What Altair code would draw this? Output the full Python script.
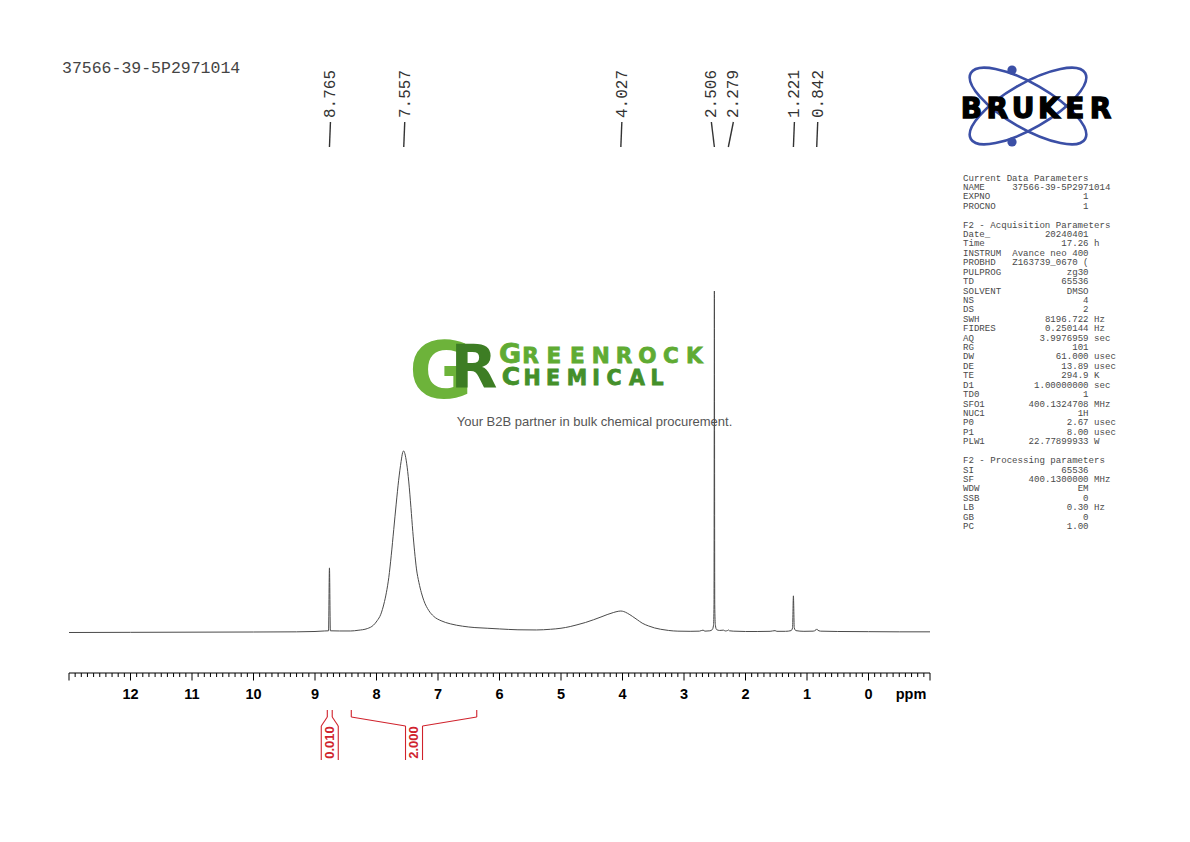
import altair as alt
import pandas as pd

# ---------------------------------------------------------------- data
TITLE = "37566-39-5P2971014"

SPEC_PPM = [13.0, 12.0, 11.0, 10.0, 9.3, 9.0, 8.85, 8.78, 8.765, 8.75,
            8.6, 8.42, 8.3, 8.15, 8.05, 7.99, 7.93, 7.88, 7.84, 7.80,
            7.76, 7.72, 7.68, 7.64, 7.60, 7.575, 7.557, 7.54, 7.51, 7.475,
            7.44, 7.41, 7.38, 7.35, 7.31, 7.27, 7.23, 7.15, 7.07, 6.95,
            6.80, 6.6, 6.4, 6.2, 6.0, 5.7, 5.4, 5.17, 5.0, 4.85,
            4.74, 4.60, 4.47, 4.35, 4.25, 4.15, 4.06, 4.027, 3.98, 3.92,
            3.84, 3.76, 3.68, 3.58, 3.48, 3.38, 3.25, 3.1, 2.9, 2.75,
            2.69, 2.66, 2.58, 2.54, 2.52, 2.512, 2.506, 2.500, 2.49, 2.47,
            2.42, 2.36, 2.33, 2.29, 2.279, 2.26, 2.2, 2.0, 1.8, 1.6,
            1.52, 1.49, 1.35, 1.26, 1.235, 1.221, 1.207, 1.18, 1.05, 0.9,
            0.855, 0.842, 0.83, 0.78, 0.5, 0.0, -0.5, -1.0]
SPEC_INT = [-0.15, -0.1, -0.05, 0.0, 0.05, 0.15, 0.3, 0.35, 18.8, 0.35,
            0.3, 0.3, 0.5, 1.0, 2.0, 3.3, 5.2, 8.2, 11.5, 16.0,
            22.5, 30.0, 37.5, 44.5, 50.0, 52.6, 53.1, 52.4, 49.5, 44.0,
            36.5, 29.5, 23.5, 18.5, 14.5, 11.5, 9.2, 6.3, 4.6, 3.3,
            2.4, 1.7, 1.3, 1.1, 0.9, 0.65, 0.6, 0.8, 1.1, 1.6,
            2.1, 2.8, 3.6, 4.4, 5.1, 5.7, 6.1, 6.15, 6.0, 5.5,
            4.6, 3.6, 2.6, 1.8, 1.2, 0.8, 0.45, 0.25, 0.2, 0.25,
            0.55, 0.25, 0.35, 0.7, 2.0, 8.0, 100.0, 8.0, 2.0, 0.7,
            0.45, 0.55, 0.3, 0.45, 0.6, 0.35, 0.25, 0.15, 0.15, 0.2,
            0.4, 0.2, 0.2, 0.4, 1.2, 10.6, 1.2, 0.4, 0.2, 0.25,
            0.6, 0.9, 0.6, 0.25, 0.15, 0.1, 0.05, 0.05]

PEAK_LABELS = ["8.765", "7.557", "4.027", "2.506", "2.279", "1.221", "0.842"]

INTEGRAL_LABELS = ["0.010", "2.000"]
INTEGRAL_START = [8.80, 8.41]
INTEGRAL_END = [8.72, 6.37]

AXIS_MAJOR = list(range(-1, 14))
AXIS_LABELLED = list(range(0, 13))
AXIS_UNIT = "ppm"

PARAM_NAMES = ["Current Data Parameters", "NAME", "EXPNO", "PROCNO", "",
               "F2 - Acquisition Parameters", "Date_", "Time", "INSTRUM", "PROBHD",
               "PULPROG", "TD", "SOLVENT", "NS", "DS", "SWH", "FIDRES", "AQ", "RG",
               "DW", "DE", "TE", "D1", "TD0", "SFO1", "NUC1", "P0", "P1", "PLW1", "",
               "F2 - Processing parameters", "SI", "SF", "WDW", "SSB", "LB", "GB", "PC"]
PARAM_VALUES = ["", "37566-39-5P2971014", "1", "1", "",
                "", "20240401", "17.26", "Avance neo 400", "Z163739_0670 (",
                "zg30", "65536", "DMSO", "4", "2", "8196.722", "0.250144", "3.9976959", "101",
                "61.000", "13.89", "294.9", "1.00000000", "1", "400.1324708", "1H", "2.67", "8.00",
                "22.77899933", "",
                "", "65536", "400.1300000", "EM", "0", "0.30", "0", "1.00"]
PARAM_UNITS = ["", "", "", "", "",
               "", "", "h", "", "",
               "", "", "", "", "", "Hz", "Hz", "sec", "",
               "usec", "usec", "K", "sec", "", "MHz", "", "usec", "usec", "W", "",
               "", "", "MHz", "", "", "Hz", "", ""]

LOGO_TEXT = "BRUKER"
WM_TOP = "GREENROCK"
WM_BOTTOM = "CHEMICAL"
WM_TAGLINE = "Your B2B partner in bulk chemical procurement."

# ---------------------------------------------------------------- layout
PLOT_LEFT, PLOT_TOP = 69, 60          # page px of plot origin
PLOT_W, PLOT_H = 861, 613
PPM_MAX, PPM_MIN = 13.0, -1.0
BASE_Y = 632.0                         # page y of zero intensity
UNIT_PX = 3.41                         # px per intensity unit
PX_PER_PPM = PLOT_W / (PPM_MAX - PPM_MIN)
Y_LO = (BASE_Y - (PLOT_TOP + PLOT_H)) / UNIT_PX
Y_HI = (BASE_Y - PLOT_TOP) / UNIT_PX


def ppm_of(page_x):
    return PPM_MAX - (page_x - PLOT_LEFT) / PX_PER_PPM


def int_of(page_y):
    return (BASE_Y - page_y) / UNIT_PX


def page_x_of(ppm):
    return PLOT_LEFT + (PPM_MAX - ppm) * PX_PER_PPM


X_SCALE = alt.Scale(domain=[PPM_MIN, PPM_MAX], reverse=True, nice=False, zero=False)
Y_SCALE = alt.Scale(domain=[Y_LO, Y_HI], nice=False, zero=False)


def X(f):
    return alt.X(f"{f}:Q", scale=X_SCALE, axis=None)


def Y(f):
    return alt.Y(f"{f}:Q", scale=Y_SCALE, axis=None)


INK = "#333333"
RED = "#d0222c"
BLUE = "#3b4fa6"
GREEN_LIGHT = "#6db33a"
GREEN_DARK = "#3d7d24"

# ---------------------------------------------------------------- spectrum
assert len(SPEC_PPM) == len(SPEC_INT)
spec_df = pd.DataFrame({"ppm": SPEC_PPM, "i": SPEC_INT})
spectrum = alt.Chart(spec_df).mark_line(
    color="#4a4a4a", strokeWidth=1, interpolate="monotone"
).encode(
    x=X("ppm"), y=Y("i"),
    order=alt.Order("ppm:Q", sort="descending"),
)

# ---------------------------------------------------------------- ppm axis (drawn on the x scale)
axis_line = alt.Chart(pd.DataFrame({"a": [PPM_MAX], "b": [PPM_MIN]})).mark_rule(
    color="black", strokeWidth=1).encode(x=X("a"), x2="b:Q", y=alt.value(PLOT_H))
major_ticks = alt.Chart(pd.DataFrame({"t": AXIS_MAJOR})).mark_rule(
    color="black", strokeWidth=1).encode(x=X("t"), y=alt.value(PLOT_H), y2=alt.value(PLOT_H + 7.5))
minor_df = pd.DataFrame({"t": [round(PPM_MIN + k * 0.1, 1) for k in range(141) if k % 10 != 0]})
minor_ticks = alt.Chart(minor_df).mark_rule(color="black", strokeWidth=1).encode(
    x=X("t"), y=alt.value(PLOT_H), y2=alt.value(PLOT_H + 4))
axis_labels = alt.Chart(pd.DataFrame({"t": AXIS_LABELLED, "s": [str(v) for v in AXIS_LABELLED]})).mark_text(
    font="Liberation Sans", fontWeight="bold", fontSize=14.5, color="black",
    align="center", baseline="alphabetic").encode(
    x=X("t"), y=alt.value(698.5 - PLOT_TOP), text="s:N")
unit_df = pd.DataFrame({"t": [AXIS_UNIT], "x": [ppm_of(911)]})
unit_label = alt.Chart(unit_df).mark_text(
    font="Liberation Sans", fontWeight="bold", fontSize=14.5, color="black",
    align="center", baseline="alphabetic").encode(x=X("x"), y=alt.value(698.5 - PLOT_TOP), text="t:N")

# ---------------------------------------------------------------- peak labels
peak_ppm = [float(s) for s in PEAK_LABELS]
lx = [page_x_of(p) for p in peak_ppm]
MIN_SEP = 22
for _ in range(100):
    moved = False
    for k in range(len(lx) - 1):
        gap = lx[k + 1] - lx[k]
        if gap < MIN_SEP - 1e-6:
            d = (MIN_SEP - gap) / 2
            lx[k] -= d
            lx[k + 1] += d
            moved = True
    if not moved:
        break
peak_df = pd.DataFrame({"label": PEAK_LABELS, "px": peak_ppm, "lx": [ppm_of(v + 1) for v in lx]})
peak_text = alt.Chart(peak_df).mark_text(
    angle=270, font="Liberation Mono", fontSize=16, color=INK,
    align="center", baseline="middle").encode(
    x=X("lx"), y=alt.value(94 - PLOT_TOP), text="label:N")
peak_lines = alt.Chart(peak_df).mark_rule(color=INK, strokeWidth=1.4).encode(
    x=X("lx"), x2="px:Q", y=alt.value(122 - PLOT_TOP), y2=alt.value(147 - PLOT_TOP))

# ---------------------------------------------------------------- integrals
segs = []
int_txt = []
HALF = 8.5
for lab, a, b in zip(INTEGRAL_LABELS, INTEGRAL_START, INTEGRAL_END):
    xa, xb = page_x_of(a), page_x_of(b)
    c = (xa + xb) / 2
    pts = [((xa, 710), (xa, 717)), ((xb, 710), (xb, 717)),
           ((xa, 717), (c - HALF, 726)), ((xb, 717), (c + HALF, 726)),
           ((c - HALF, 726), (c - HALF, 760)), ((c + HALF, 726), (c + HALF, 760))]
    for (x1, y1), (x2, y2) in pts:
        segs.append({"x": ppm_of(x1), "x2": ppm_of(x2), "y": int_of(y1), "y2": int_of(y2)})
    int_txt.append({"t": lab, "x": ppm_of(c), "y": int_of(742.5)})
integral_lines = alt.Chart(pd.DataFrame(segs)).mark_rule(color=RED, strokeWidth=1.1).encode(
    x=X("x"), x2="x2:Q", y=Y("y"), y2="y2:Q")
integral_text = alt.Chart(pd.DataFrame(int_txt)).mark_text(
    angle=270, font="Liberation Sans", fontWeight="bold", fontSize=13, color=RED,
    align="center", baseline="middle").encode(x=X("x"), y=Y("y"), text="t:N")

# ---------------------------------------------------------------- title
title = alt.Chart(pd.DataFrame({"t": [TITLE]})).mark_text(
    font="Liberation Mono", fontSize=16.5, color="#444444", align="left",
    baseline="alphabetic").encode(
    x=alt.value(62 - PLOT_LEFT), y=alt.value(73 - PLOT_TOP), text="t:N")

# ---------------------------------------------------------------- parameter panel
CW = 5.46
PX0 = 963
rows = []
for k, (n, v, u) in enumerate(zip(PARAM_NAMES, PARAM_VALUES, PARAM_UNITS)):
    rows.append({"n": n, "v": v, "u": u, "y": int_of(180.5 + 9.42 * k)})
param_df = pd.DataFrame(rows)
pfont = dict(font="Liberation Mono", fontSize=9.1, color="#4a4a4a", baseline="alphabetic")
p_names = alt.Chart(param_df).mark_text(align="left", **pfont).encode(
    x=alt.value(PX0 - PLOT_LEFT), y=Y("y"), text="n:N")
p_name_val = alt.Chart(param_df[param_df["n"] == "NAME"]).mark_text(align="left", **pfont).encode(
    x=alt.value(PX0 + 9 * CW - PLOT_LEFT), y=Y("y"), text="v:N")
p_vals = alt.Chart(param_df[param_df["n"] != "NAME"]).mark_text(align="right", **pfont).encode(
    x=alt.value(PX0 + 23 * CW - PLOT_LEFT), y=Y("y"), text="v:N")
p_units = alt.Chart(param_df).mark_text(align="left", **pfont).encode(
    x=alt.value(PX0 + 24 * CW - PLOT_LEFT), y=Y("y"), text="u:N")

# ---------------------------------------------------------------- Bruker logo
ELLIPSE = "M -1 0 A 1 0.34 0 1 1 1 0 A 1 0.34 0 1 1 -1 0 Z"
orbit_df = pd.DataFrame({"ang": [30, 330], "x": [ppm_of(1028)] * 2, "y": [int_of(106)] * 2})
orbits = alt.Chart(orbit_df).mark_point(
    shape=ELLIPSE, filled=False, stroke=BLUE, strokeWidth=2.6, size=17424, opacity=1).encode(
    x=X("x"), y=Y("y"), angle=alt.Angle("ang:Q", scale=None))
dots_df = pd.DataFrame({"x": [ppm_of(1012), ppm_of(1012)], "y": [int_of(70), int_of(142)]})
dots = alt.Chart(dots_df).mark_point(
    shape="circle", filled=True, color=BLUE, size=85, opacity=1).encode(x=X("x"), y=Y("y"))
logo_df = pd.DataFrame({"c": list(LOGO_TEXT),
                        "x": [ppm_of(971.5 + 25.8 * k) for k in range(len(LOGO_TEXT))],
                        "y": [int_of(118)] * len(LOGO_TEXT)})
logo = alt.Chart(logo_df).mark_text(
    font="DejaVu Sans", fontWeight="bold", fontSize=28, color="black", stroke="black",
    strokeWidth=1.3, align="center", baseline="alphabetic").encode(x=X("x"), y=Y("y"), text="c:N")

# ---------------------------------------------------------------- watermark
wm_g = alt.Chart(pd.DataFrame({"c": ["G"], "x": [ppm_of(441)], "y": [int_of(398)]})).mark_text(
    font="DejaVu Sans", fontWeight="bold", fontSize=78, color=GREEN_LIGHT,
    align="center", baseline="alphabetic").encode(x=X("x"), y=Y("y"), text="c:N")
wm_r = alt.Chart(pd.DataFrame({"c": ["R"], "x": [ppm_of(474)], "y": [int_of(388)]})).mark_text(
    font="DejaVu Sans", fontWeight="bold", fontSize=61, color=GREEN_DARK,
    align="center", baseline="alphabetic").encode(x=X("x"), y=Y("y"), text="c:N")

top_x = [510] + [530.5 + 23.4 * k for k in range(len(WM_TOP) - 1)]
top_df = pd.DataFrame({"c": list(WM_TOP), "x": [ppm_of(v) for v in top_x],
                       "y": [int_of(363)] * len(WM_TOP),
                       "s": [27] + [21.5] * (len(WM_TOP) - 1)})
wm_top = alt.Chart(top_df).mark_text(
    font="DejaVu Sans", fontWeight="bold", color="#5fab33", stroke="#5fab33", strokeWidth=0.8,
    align="center", baseline="alphabetic").encode(x=X("x"), y=Y("y"), text="c:N",
                                                  size=alt.Size("s:Q", scale=None))
bot_x = [511, 532, 553, 577, 596, 614, 637, 657]
bot_df = pd.DataFrame({"c": list(WM_BOTTOM), "x": [ppm_of(v) for v in bot_x],
                       "y": [int_of(385)] * len(WM_BOTTOM),
                       "s": [25] + [20.5] * (len(WM_BOTTOM) - 1)})
wm_bot = alt.Chart(bot_df).mark_text(
    font="DejaVu Sans", fontWeight="bold", color="#44902a", stroke="#44902a", strokeWidth=0.8,
    align="center", baseline="alphabetic").encode(x=X("x"), y=Y("y"), text="c:N",
                                                  size=alt.Size("s:Q", scale=None))
tag = alt.Chart(pd.DataFrame({"t": [WM_TAGLINE], "x": [ppm_of(594.5)], "y": [int_of(425.5)]})).mark_text(
    font="Liberation Sans", fontSize=13, color="#555555", align="center",
    baseline="alphabetic").encode(x=X("x"), y=Y("y"), text="t:N")

# ---------------------------------------------------------------- compose
chart = alt.layer(
    wm_g, wm_r, wm_top, wm_bot, tag,
    spectrum,
    axis_line, major_ticks, minor_ticks, axis_labels, unit_label,
    peak_lines, peak_text,
    integral_lines, integral_text,
    title,
    p_names, p_name_val, p_vals, p_units,
    orbits, dots, logo,
).properties(
    width=PLOT_W, height=PLOT_H,
    autosize=alt.AutoSizeParams(type="none"),
    padding={"left": PLOT_LEFT - 8, "top": PLOT_TOP - 8, "right": 232, "bottom": 150},
    background="white",
).configure_view(strokeWidth=0)

chart.save("out.html", embed_options={"renderer": "svg", "actions": False})
